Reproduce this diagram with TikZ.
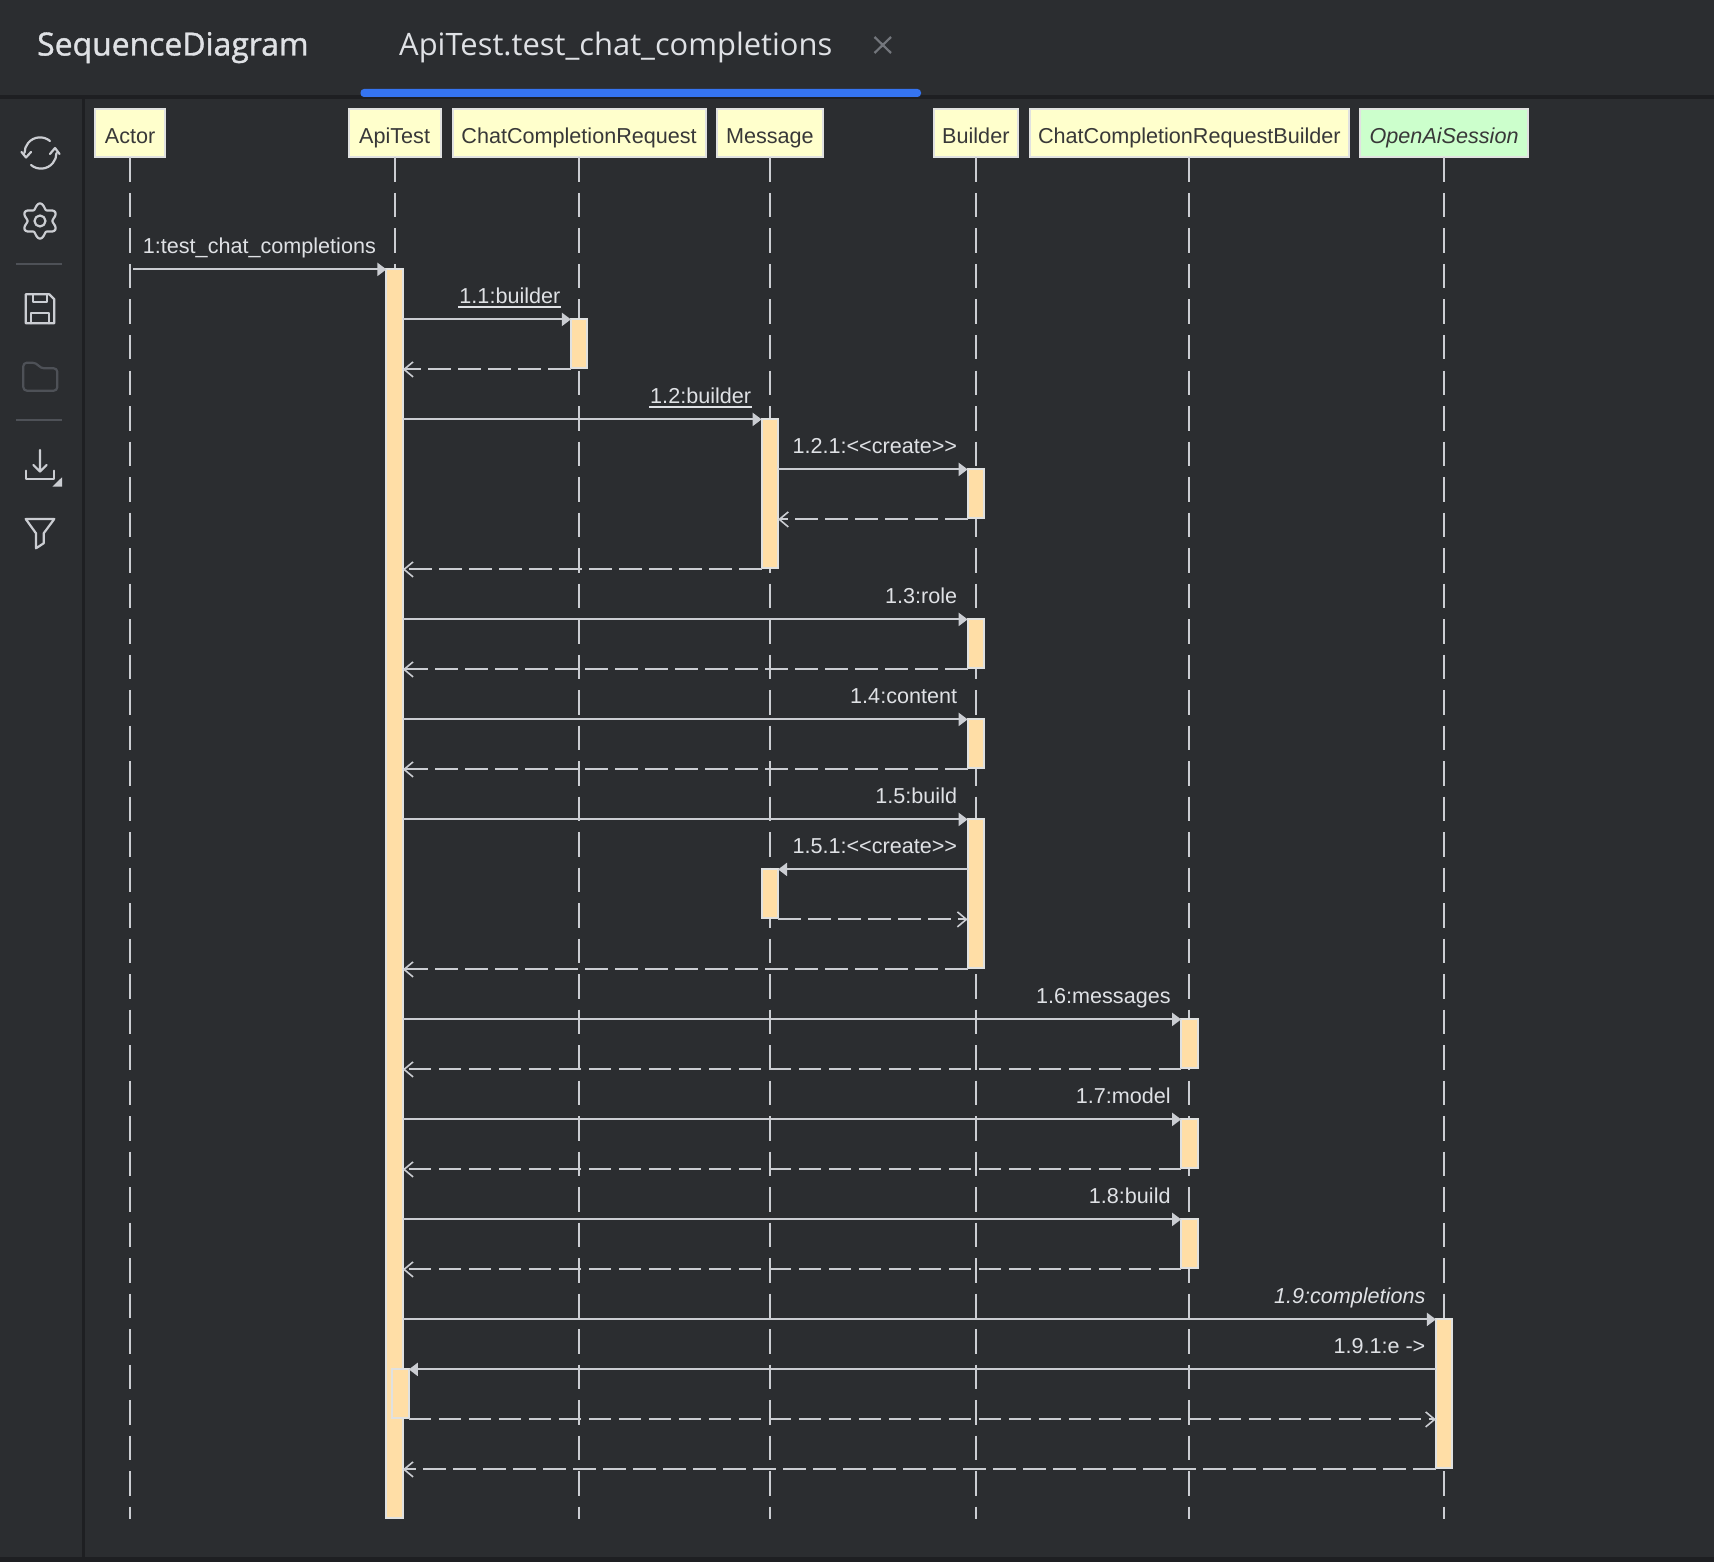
\documentclass[tikz,border=0pt]{standalone}
\usepackage{fontspec}
\setmainfont{Liberation Sans}
\newfontfamily\tabfont{Open Sans}
\newfontfamily\titlefont{Open Sans}[FakeBold=1.2]
\usetikzlibrary{positioning, arrows.meta}
\definecolor{panelbg}{HTML}{2B2D30}
\definecolor{panelline}{HTML}{1E1F22}
\definecolor{linecol}{HTML}{CBCDD2}
\definecolor{textcol}{HTML}{DFE1E5}
\definecolor{dimcol}{HTML}{4E5157}
\definecolor{tabblue}{HTML}{3574F0}
\definecolor{headfill}{HTML}{FFFFCC}
\definecolor{sessionfill}{HTML}{CCFFCC}
\definecolor{barfill}{HTML}{FFDEA6}
\definecolor{boxline}{HTML}{E0E1E0}

\begin{document}
\begin{tikzpicture}[x=1pt, y=-1pt]
\tikzset{
lifehead/.style={draw=boxline, fill=headfill, line width=2pt, text=black!78, inner xsep=0pt, inner ysep=0pt, outer sep=0pt, minimum height=48pt, text height=25pt, text depth=5pt, font=\fontsize{21.6}{26}\selectfont}, % the boxes on top
lifeline/.style={draw=linecol, line width=2.1pt, dash pattern=on 24.5pt off 11pt}, % dashed line under a box
actbar/.style={draw=boxline, fill=barfill, line width=2pt, inner sep=0pt, outer sep=0pt, minimum width=16.4pt, anchor=north}, % activation
callarrow/.style={draw=linecol, line width=2.1pt, -{Triangle[length=9pt,width=13pt]}}, % solid message
retarrow/.style={draw=linecol, line width=2.1pt, dash pattern=on 22.5pt off 7.5pt, -{Straight Barb[length=9pt,width=15pt,line width=1.6pt]}}, % dashed return
msgtext/.style={text=textcol, inner sep=0pt, anchor=base east, xshift=-9.5pt, yshift=16pt, font=\fontsize{21.6}{26}\selectfont}, % label over a message
underbar/.style={draw=textcol, line width=1.5pt}, % line under a static call
icon/.style={draw=linecol, line width=2.2pt, line join=round, line cap=round}, % toolbar icons
}
	\useasboundingbox (0,0) rectangle (1714,1562);
	\fill[panelbg] (0,0) rectangle (1714,1562);

	% frame and tab
	\fill[panelline] (0,95) rectangle (1714,99);
	\fill[panelline] (82,99) rectangle (84.5,1557);
	\fill[panelline] (0,1557) rectangle (1714,1562);
	\fill[tabblue, rounded corners=3.5pt] (360.5,89) rectangle (921,97);
	\node[anchor=base west, inner sep=0pt, text=textcol, font=\titlefont\fontsize{31.9}{36}\selectfont] (title) at (37,55.5) {SequenceDiagram};
	\node[anchor=base west, inner sep=0pt, text=textcol, font=\tabfont\fontsize{30.9}{36}\selectfont] (tab) at (399,55.5) {ApiTest.test\_chat\_completions};
	\draw[draw=dimcol!70!linecol, line width=2.2pt] (874.5,37) -- (891,53) (874.5,53) -- (891,37);

	% toolbar
	\draw[icon] (50,141) arc[start angle=-50, end angle=-180, radius=15.5];
	\draw[icon] (21.5,152) -- (26,157.5) -- (31,152);
	\draw[icon] (31,165) arc[start angle=130, end angle=0, radius=15.5];
	\draw[icon] (50,154) -- (55,148) -- (59.5,154);
	\draw[icon] plot[domain=0:360, samples=73, smooth] ({40+(15-2.6*cos(6*\x))*cos(\x)}, {221+(15-2.6*cos(6*\x))*sin(\x)});
	\draw[icon] (40,221) circle[radius=5.5];
	\draw[draw=dimcol, line width=1.6pt] (16,264) -- (62,264) (16,420) -- (62,420);
	\draw[icon] (25.7,294.3) -- (49.3,294.3) -- (54.3,299.3) -- (54.3,323.3) -- (25.7,323.3) -- cycle;
	\draw[icon] (32.7,294.3) -- (32.7,302.3) -- (46.7,302.3) -- (46.7,294.3);
	\draw[icon] (31,323.3) -- (31,312.7) -- (49.3,312.7) -- (49.3,323.3);
	\draw[icon, draw=dimcol, rounded corners=3.5pt] (23.3,390.7) -- (23.3,362.7) -- (36,362.7) -- (40.7,368.3) -- (57.3,368.3) -- (57.3,390.7) -- cycle;
	\draw[icon] (40,450) -- (40,471.5) (33.3,465) -- (40,471.5) -- (46.7,465);
	\draw[icon] (25.7,470.7) -- (25.7,479) -- (54.3,479) -- (54.3,470.7);
	\fill[linecol] (62,477.3) -- (62,486.7) -- (52.3,486.7) -- cycle;
	\draw[icon] (25.7,519) -- (54.3,519) -- (43.7,533.3) -- (43.7,543.3) -- (36,548.3) -- (36,533.3) -- cycle;

	% boxes
	\node[lifehead, minimum width=70pt] (actor) at (130.2,133.5) {Actor};
	\node[lifehead, minimum width=92pt, right=183.4pt of actor] (apitest) {ApiTest};
	\node[lifehead, minimum width=253pt, right=12pt of apitest] (request) {ChatCompletionRequest};
	\node[lifehead, minimum width=105.5pt, right=11.5pt of request] (message) {Message};
	\node[lifehead, minimum width=84.5pt, right=111pt of message] (builder) {Builder};
	\node[lifehead, minimum width=318.5pt, right=12pt of builder] (reqbuilder) {ChatCompletionRequestBuilder};
	\node[lifehead, minimum width=168pt, right=11.5pt of reqbuilder, fill=sessionfill] (session) {\itshape OpenAiSession};

	% rows, 50 apart
	\foreach \k in {0,...,25}
		\coordinate (r\k) at (0,269.4+50*\k);

	\foreach \p in {actor,apitest,request,message,builder,reqbuilder,session}
		\draw[lifeline] (\p.south) -- (\p.south |- r25);

	% activations
	\node[actbar, minimum height=1249pt] (main) at (apitest.south |- r0) {};
	\node[actbar, minimum height=49pt] (a11) at (request.south |- r1) {};
	\node[actbar, minimum height=149pt] (a12) at (message.south |- r3) {};
	\node[actbar, minimum height=49pt] (a121) at (builder.south |- r4) {};
	\node[actbar, minimum height=49pt] (a13) at (builder.south |- r7) {};
	\node[actbar, minimum height=49pt] (a14) at (builder.south |- r9) {};
	\node[actbar, minimum height=149pt] (a15) at (builder.south |- r11) {};
	\node[actbar, minimum height=49pt] (a151) at (message.south |- r12) {};
	\node[actbar, minimum height=49pt] (a16) at (reqbuilder.south |- r15) {};
	\node[actbar, minimum height=49pt] (a17) at (reqbuilder.south |- r17) {};
	\node[actbar, minimum height=49pt] (a18) at (reqbuilder.south |- r19) {};
	\node[actbar, minimum height=149pt] (a19) at (session.south |- r21) {};
	\node[actbar, minimum height=49pt, xshift=6pt] (a191) at (apitest.south |- r22) {};

	% messages
	\draw[callarrow] ([xshift=3pt]actor.south |- r0) -- node[msgtext, pos=1] (m1) {1:test\_chat\_completions} (main.north west);
	\draw[callarrow] (main.east |- r1) -- node[msgtext, pos=1] (m11) {1.1:builder} (a11.north west);
	\draw[underbar] ([yshift=-3.5pt]m11.base west) -- ([yshift=-3.5pt]m11.base east);
	\draw[retarrow] (a11.west |- r2) -- (main.east |- r2);
	\draw[callarrow] (main.east |- r3) -- node[msgtext, pos=1] (m12) {1.2:builder} (a12.north west);
	\draw[underbar] ([yshift=-3.5pt]m12.base west) -- ([yshift=-3.5pt]m12.base east);
	\draw[callarrow] (a12.east |- r4) -- node[msgtext, pos=1] (m121) {1.2.1:<{}<create>{}>} (a121.north west);
	\draw[retarrow] (a121.west |- r5) -- (a12.east |- r5);
	\draw[retarrow] (a12.west |- r6) -- (main.east |- r6);
	\draw[callarrow] (main.east |- r7) -- node[msgtext, pos=1] (m13) {1.3:role} (a13.north west);
	\draw[retarrow] (a13.west |- r8) -- (main.east |- r8);
	\draw[callarrow] (main.east |- r9) -- node[msgtext, pos=1] (m14) {1.4:content} (a14.north west);
	\draw[retarrow] (a14.west |- r10) -- (main.east |- r10);
	\draw[callarrow] (main.east |- r11) -- node[msgtext, pos=1] (m15) {1.5:build} (a15.north west);
	\draw[callarrow] (a15.west |- r12) -- node[msgtext, pos=0] (m151) {1.5.1:<{}<create>{}>} (a151.north east);
	\draw[retarrow] (a151.east |- r13) -- (a15.west |- r13);
	\draw[retarrow] (a15.west |- r14) -- (main.east |- r14);
	\draw[callarrow] (main.east |- r15) -- node[msgtext, pos=1] (m16) {1.6:messages} (a16.north west);
	\draw[retarrow] (a16.west |- r16) -- (main.east |- r16);
	\draw[callarrow] (main.east |- r17) -- node[msgtext, pos=1] (m17) {1.7:model} (a17.north west);
	\draw[retarrow] (a17.west |- r18) -- (main.east |- r18);
	\draw[callarrow] (main.east |- r19) -- node[msgtext, pos=1] (m18) {1.8:build} (a18.north west);
	\draw[retarrow] (a18.west |- r20) -- (main.east |- r20);
	\draw[callarrow] (main.east |- r21) -- node[msgtext, pos=1, font=\fontsize{21.6}{26}\selectfont\itshape] (m19) {1.9:completions} (a19.north west);
	\draw[callarrow] (a19.west |- r22) -- node[msgtext, pos=0] (m191) {1.9.1:e ->} (a191.north east);
	\draw[retarrow] (a191.east |- r23) -- (a19.west |- r23);
	\draw[retarrow] (a19.west |- r24) -- (main.east |- r24);
\end{tikzpicture}
\end{document}
